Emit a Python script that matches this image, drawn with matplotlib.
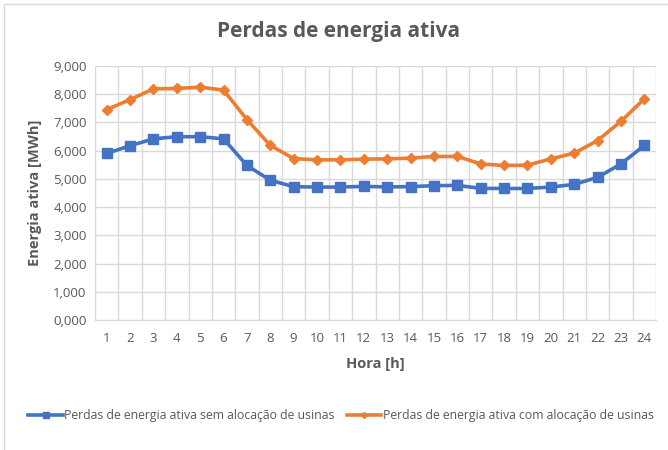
import numpy as np
import matplotlib

matplotlib.use("Agg")
import matplotlib.pyplot as plt
from matplotlib.patches import Rectangle

plt.rcParams["font.family"] = ["Open Sans", "DejaVu Sans"]

hours = list(range(1, 25))
sem_alocacao = [5900, 6175, 6420, 6495, 6495, 6420, 5475, 4950, 4725, 4710, 4710, 4735,
                4715, 4725, 4760, 4770, 4665, 4660, 4660, 4710, 4805, 5055, 5530, 6185]
com_alocacao = [7455, 7810, 8190, 8205, 8250, 8145, 7100, 6185, 5720, 5675, 5675, 5700,
                5710, 5735, 5795, 5795, 5530, 5475, 5485, 5710, 5910, 6360, 7040, 7835]
yticks = list(range(0, 9001, 1000))
ytick_labels = [f"{v // 1000},000" for v in yticks]

text_col = "#595959"
grid_col = "#d9d9d9"

fig = plt.figure(figsize=(6.68, 4.5), dpi=100)
ax = fig.add_axes([95 / 668, 1 - 320 / 450, (656 - 95) / 668, (320 - 66) / 450])

ax.plot(hours, sem_alocacao, color="#4472c4", lw=2.6, marker="s", ms=7,
        label="Perdas de energia ativa sem alocação de usinas")
ax.plot(hours, com_alocacao, color="#ed7d31", lw=2.6, marker="D", ms=5,
        label="Perdas de energia ativa com alocação de usinas")

ax.set_xlim(0.5, 24.5)
ax.set_ylim(0, 9000)
ax.set_xticks(hours)
ax.set_xticklabels([str(h) for h in hours])
ax.set_xticks(np.arange(0.5, 25, 1), minor=True)
ax.set_yticks(yticks)
ax.set_yticklabels(ytick_labels)
ax.tick_params(axis="both", which="both", length=0, colors=text_col, labelsize=9.5)
ax.tick_params(axis="x", pad=9)
ax.tick_params(axis="y", pad=6)
ax.grid(axis="y", which="major", color=grid_col, lw=1)
ax.grid(axis="x", which="minor", color=grid_col, lw=1)
ax.set_axisbelow(True)
for s in ["top", "right", "left"]:
    ax.spines[s].set_visible(False)
ax.spines["bottom"].set_color(grid_col)

ax.set_xlabel("Hora [h]", color=text_col, fontsize=10.5, fontweight="bold", labelpad=8)
ax.set_ylabel("Energia ativa [MWh]", color=text_col, fontsize=10.5, fontweight="bold", labelpad=8)
fig.text(0.507, 1 - 32 / 450, "Perdas de energia ativa", ha="center", va="center",
         color=text_col, fontsize=15, fontweight="bold")

fig.legend(loc="center", bbox_to_anchor=(0.511, 1 - 416 / 450), ncol=2, frameon=False,
           fontsize=8.8, labelcolor=text_col, handlelength=2.8, columnspacing=1.0,
           handletextpad=0.15, markerscale=0.6)

fig.patches.append(Rectangle((4 / 668, -0.05), 1.2, 1 - 4 / 450 + 0.05, transform=fig.transFigure,
                             fill=False, edgecolor=grid_col, lw=1))

fig.savefig("out.png", dpi=100)
